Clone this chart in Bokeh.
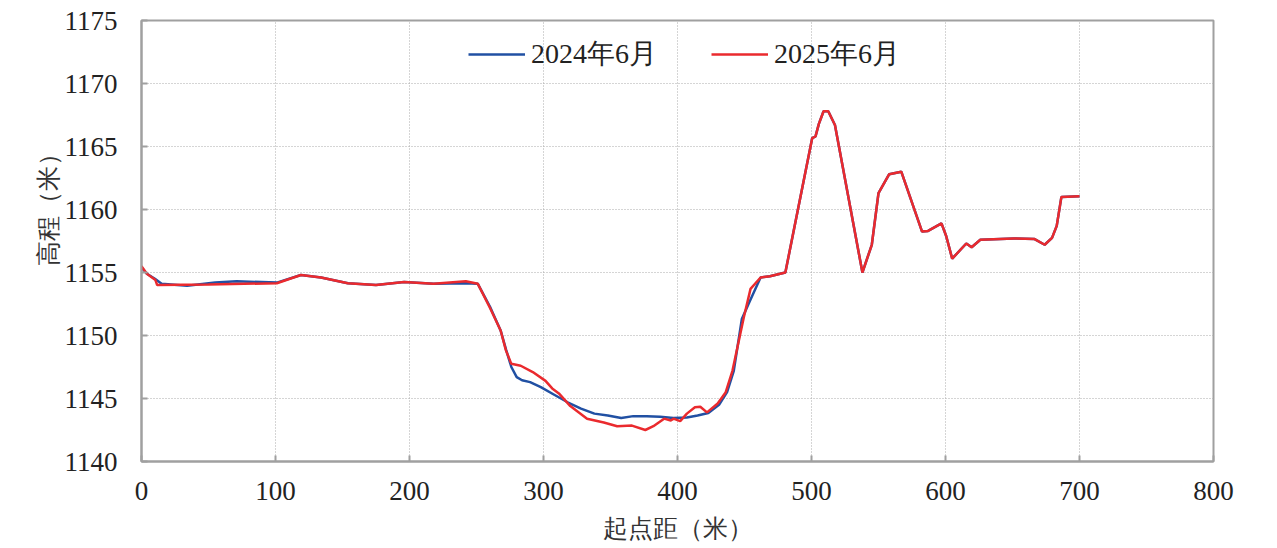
from bokeh.plotting import figure
from bokeh.models import Range1d, FixedTicker, Legend, LegendItem, Title
from bokeh.embed import file_html
from bokeh.resources import INLINE

x_2024 = [0, 4, 10, 15, 34, 55, 71, 101, 119, 134, 154, 175, 196, 218, 242, 251,
          260, 268, 272, 276, 280, 284, 290, 298, 308, 318, 328, 338, 348, 358,
          367, 377, 387, 397, 407, 415, 423, 431, 437, 442, 448, 453, 462, 469,
          480.5, 500.5, 503, 505.5, 509, 512.5, 517.5, 538, 545, 550, 558, 567,
          582.5, 587, 597, 600.5, 605, 615.5, 619.5, 626, 651, 666.5, 674, 679.5,
          683, 686.5, 700]
y_2024 = [1155.4, 1154.9, 1154.5, 1154.1, 1153.95, 1154.2, 1154.3, 1154.2, 1154.8,
          1154.6, 1154.15, 1154.0, 1154.25, 1154.1, 1154.15, 1154.1,
          1152.3, 1150.4, 1148.9, 1147.5, 1146.7, 1146.45, 1146.3, 1145.9, 1145.3,
          1144.7, 1144.2, 1143.8, 1143.65, 1143.45,
          1143.6, 1143.6, 1143.55, 1143.45, 1143.5, 1143.65, 1143.85, 1144.5, 1145.5,
          1147.2, 1151.3, 1152.5, 1154.6, 1154.7,
          1155.0, 1165.66, 1165.8, 1166.8, 1167.8, 1167.8, 1166.7, 1155.0, 1157.2,
          1161.3, 1162.8, 1163.0,
          1158.25, 1158.3, 1158.9, 1157.9, 1156.1, 1157.3, 1157.0, 1157.6, 1157.7,
          1157.65, 1157.2, 1157.75, 1158.7, 1161.0, 1161.05]

x_2025 = [0, 4, 10.4, 11.7, 50, 101, 119, 134, 154, 175, 196, 218, 242, 251,
          260, 268, 272, 276, 283, 292, 301.5, 306.5, 311.5, 320, 332.5, 345, 355,
          366, 376, 382, 390, 395, 397, 402, 407, 413, 417, 422, 430, 436, 441,
          449.5, 454.5, 462, 469, 480.5, 500.5, 503, 505.5, 509, 512.5, 517.5,
          538, 545, 550, 558, 567, 582.5, 587, 597, 600.5, 605, 615.5, 619.5, 626,
          651, 666.5, 674, 679.5, 683, 686.5, 700]
y_2025 = [1155.5, 1154.9, 1154.4, 1154.0, 1154.05, 1154.15, 1154.8, 1154.6, 1154.15,
          1154.0, 1154.25, 1154.1, 1154.3, 1154.1,
          1152.2, 1150.4, 1148.8, 1147.75, 1147.6, 1147.1, 1146.4, 1145.8, 1145.4,
          1144.4, 1143.4, 1143.1, 1142.8,
          1142.85, 1142.5, 1142.8, 1143.4, 1143.25, 1143.4, 1143.2, 1143.8, 1144.3,
          1144.35, 1143.9, 1144.6, 1145.5, 1147.2,
          1151.45, 1153.7, 1154.6, 1154.7, 1155.0, 1165.66, 1165.8, 1166.8, 1167.8,
          1167.8, 1166.7,
          1155.0, 1157.2, 1161.3, 1162.8, 1163.0, 1158.25, 1158.3, 1158.9, 1157.9,
          1156.1, 1157.3, 1157.0, 1157.6,
          1157.7, 1157.65, 1157.2, 1157.75, 1158.7, 1161.0, 1161.05]

series_names = ["2024年6月", "2025年6月"]
x_ticks = [0, 100, 200, 300, 400, 500, 600, 700, 800]
y_ticks = [1140, 1145, 1150, 1155, 1160, 1165, 1170, 1175]
x_title = "起点距（米）"
y_title = "高程（米）"

FONT = "Liberation Serif"
GRAY = "#a0a0a0"

p = figure(width=1277, height=548, output_backend="svg", toolbar_location=None,
           x_range=Range1d(0, 800), y_range=Range1d(1140, 1175))
p.min_border_left = 141
p.min_border_right = 64
p.min_border_top = 20
p.min_border_bottom = 87
p.background_fill_color = "white"
p.border_fill_color = "white"
p.outline_line_color = GRAY
p.outline_line_width = 2

for ax in (p.xaxis[0], p.yaxis[0]):
    ax.axis_line_color = GRAY
    ax.axis_line_width = 2
    ax.major_tick_in = 6
    ax.major_tick_out = 0
    ax.major_tick_line_color = GRAY
    ax.major_tick_line_width = 2
    ax.minor_tick_line_color = None
    ax.major_label_text_font = FONT
    ax.major_label_text_font_size = "27px"
    ax.major_label_text_color = "#222222"
    ax.axis_label_text_font = FONT
    ax.axis_label_text_font_size = "25px"
    ax.axis_label_text_font_style = "normal"
    ax.axis_label_text_color = "#333333"

p.xaxis.ticker = FixedTicker(ticks=x_ticks)
p.yaxis.ticker = FixedTicker(ticks=y_ticks)
p.xaxis.axis_label = x_title
p.xaxis.major_label_standoff = 20
p.yaxis.major_label_standoff = 24
p.xaxis.axis_label_standoff = 12

# y-axis title, set like the original: above the vertical centre
ytitle = Title(text=y_title, align="right", offset=120, standoff=0,
               text_font=FONT, text_font_size="25px", text_font_style="normal",
               text_color="#333333")
p.add_layout(ytitle, "left")

for g in (p.xgrid[0], p.ygrid[0]):
    g.grid_line_color = "#aaaaaa"
    g.grid_line_dash = "1 2"
    g.grid_line_width = 1

r1 = p.line(x_2024, y_2024, line_color="#2150a3", line_width=2.5)
r2 = p.line(x_2025, y_2025, line_color="#ea2a2e", line_width=2.5)

legend = Legend(items=[LegendItem(label=series_names[0], renderers=[r1]),
                       LegendItem(label=series_names[1], renderers=[r2])],
                location=(327, 388), orientation="horizontal")
legend.border_line_color = None
legend.background_fill_alpha = 0
legend.label_text_font = FONT
legend.label_text_font_size = "28px"
legend.label_text_color = "#222222"
legend.glyph_width = 57
legend.glyph_height = 30
legend.label_standoff = 6
legend.spacing = 54
legend.margin = 0
legend.padding = 2
p.add_layout(legend)

open("out.html", "w").write(file_html(p, INLINE))
